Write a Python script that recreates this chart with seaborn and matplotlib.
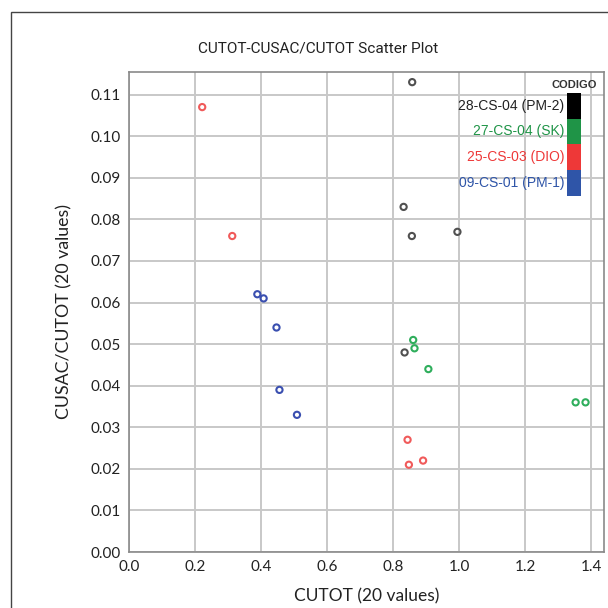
import matplotlib
matplotlib.use("Agg")
import matplotlib.pyplot as plt
import matplotlib.patches as mpatches
import seaborn as sns
import pandas as pd

# ---- data ----
codes = ["28-CS-04 (PM-2)", "27-CS-04 (SK)", "25-CS-03 (DIO)", "09-CS-01 (PM-1)"]
legend_colors = ["#000000", "#1f9447", "#ee3838", "#2f55a8"]
point_colors = ["#505050", "#2fae5c", "#f05a5a", "#3a4fb0"]

cutot_pm2 = [0.858, 0.832, 0.857, 0.995, 0.835]
ratio_pm2 = [0.113, 0.083, 0.076, 0.077, 0.048]
cutot_sk = [0.861, 0.865, 0.907, 1.353, 1.383]
ratio_sk = [0.051, 0.049, 0.044, 0.036, 0.036]
cutot_dio = [0.222, 0.313, 0.844, 0.848, 0.891]
ratio_dio = [0.107, 0.076, 0.027, 0.021, 0.022]
cutot_pm1 = [0.389, 0.408, 0.447, 0.456, 0.509]
ratio_pm1 = [0.062, 0.061, 0.054, 0.039, 0.033]

x_ticks = [0.0, 0.2, 0.4, 0.6, 0.8, 1.0, 1.2, 1.4]
y_ticks = [0.00, 0.01, 0.02, 0.03, 0.04, 0.05, 0.06, 0.07, 0.08, 0.09, 0.10, 0.11]

title = "CUTOT-CUSAC/CUTOT Scatter Plot"
xlabel = "CUTOT (20 values)"
ylabel = "CUSAC/CUTOT (20 values)"
legend_title = "CODIGO"

df = pd.concat([
    pd.DataFrame({"CUTOT": cutot_pm2, "RATIO": ratio_pm2, "CODIGO": codes[0]}),
    pd.DataFrame({"CUTOT": cutot_sk, "RATIO": ratio_sk, "CODIGO": codes[1]}),
    pd.DataFrame({"CUTOT": cutot_dio, "RATIO": ratio_dio, "CODIGO": codes[2]}),
    pd.DataFrame({"CUTOT": cutot_pm1, "RATIO": ratio_pm1, "CODIGO": codes[3]}),
], ignore_index=True)

sns.set_theme(style="white")
plt.rcParams["font.family"] = ["Lato", "DejaVu Sans"]

fig = plt.figure(figsize=(6.08, 6.08), dpi=100)
ax = fig.add_axes([0.212, 0.092, 0.782, 0.790])

# outer frame
frame = mpatches.Rectangle((11 / 608, -0.1), 1.2, 1 - 12 / 608 + 0.1,
                           transform=fig.transFigure, fill=False,
                           edgecolor="#444444", linewidth=1.0, zorder=0)
fig.patches.append(frame)

for code, pc in zip(codes, point_colors):
    sub = df[df["CODIGO"] == code]
    sns.scatterplot(data=sub, x="CUTOT", y="RATIO", ax=ax, marker="o",
                    facecolor="none", edgecolor=pc, linewidth=1.5, s=20,
                    legend=False, zorder=3)

ax.set_xlim(0, 1.44)
ax.set_ylim(0, 0.1155)
ax.set_xticks(x_ticks)
ax.set_xticklabels([f"{v:.1f}" for v in x_ticks])
ax.set_yticks(y_ticks)
ax.set_yticklabels([f"{v:.2f}" for v in y_ticks])
ax.grid(True, color="#c8c8c8", linewidth=1.4)
ax.set_axisbelow(True)
for s in ax.spines.values():
    s.set_color("#8a8a8a")
    s.set_linewidth(1.2)
ax.tick_params(axis="both", which="major", direction="out", length=4,
               width=1, color="#666666", labelsize=11, labelcolor="#222222", pad=2)

fig.text(0.523, 0.921, title, ha="center", va="center", fontsize=11.1,
         color="#222222", family=["Roboto", "DejaVu Sans"])
ax.set_xlabel(xlabel, fontsize=12.5, color="#222222", labelpad=10)
ax.set_ylabel(ylabel, fontsize=12.8, color="#222222", labelpad=13)

# custom color-bar legend
leg_font = ["Liberation Sans", "DejaVu Sans"]
bar_x0, bar_w = 0.921, 0.029
top_y = 0.956
blk_h = 0.0535
ax.text(0.985, 0.973, legend_title, transform=ax.transAxes, ha="right", va="center",
        fontsize=8, fontweight="bold", color="#333333", family=leg_font)
for i, (code, lc) in enumerate(zip(codes, legend_colors)):
    y0 = top_y - (i + 1) * blk_h
    ax.add_patch(mpatches.Rectangle((bar_x0, y0), bar_w, blk_h, transform=ax.transAxes,
                                    facecolor=lc, edgecolor="none", zorder=5))
    ax.text(bar_x0 - 0.005, y0 + blk_h / 2, code, transform=ax.transAxes,
            ha="right", va="center", fontsize=10, color=lc if i else "#222222",
            family=leg_font, zorder=5)

fig.savefig("out.png", dpi=100)
